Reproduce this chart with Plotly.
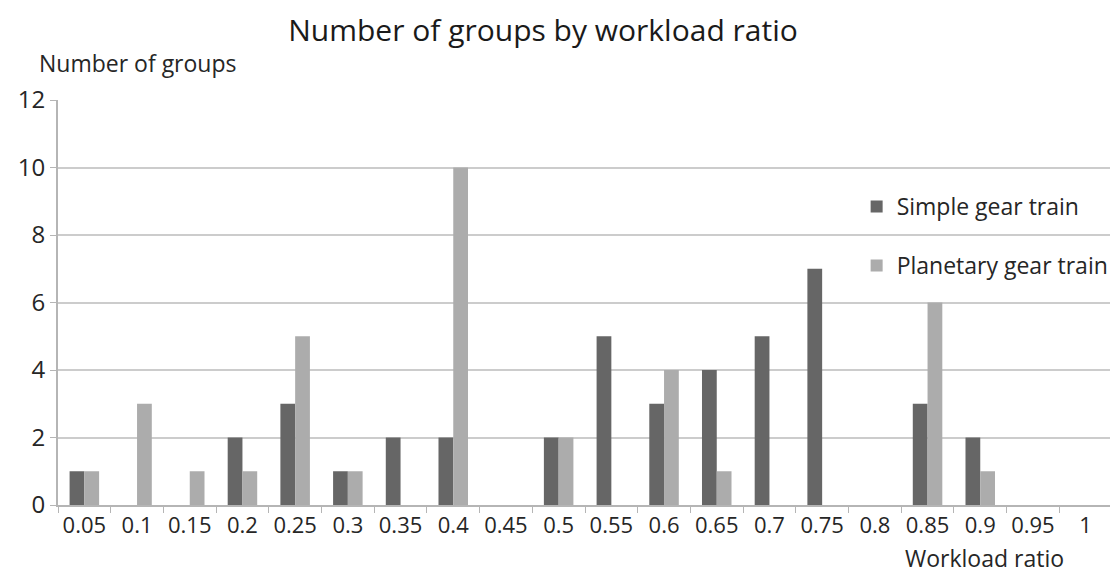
import plotly.graph_objects as go

categories = ["0.05", "0.1", "0.15", "0.2", "0.25", "0.3", "0.35", "0.4", "0.45", "0.5",
              "0.55", "0.6", "0.65", "0.7", "0.75", "0.8", "0.85", "0.9", "0.95", "1"]
simple = [1, 0, 0, 2, 3, 1, 2, 2, 0, 2, 5, 3, 4, 5, 7, 0, 3, 2, 0, 0]
planetary = [1, 3, 1, 1, 5, 1, 0, 10, 0, 2, 0, 4, 1, 0, 0, 0, 6, 1, 0, 0]
y_ticks = [0, 2, 4, 6, 8, 10, 12]

FONT = "Open Sans"
TXT = "#262626"

fig = go.Figure()
fig.add_trace(go.Bar(x=categories, y=simple, name="Simple gear train", legendgroup="a",
                     marker=dict(color="#666666", line=dict(width=0))))
fig.add_trace(go.Bar(x=categories, y=planetary, name="Planetary gear train", legendgroup="b",
                     marker=dict(color="#acacac", line=dict(width=0))))

fig.update_layout(
    width=1110, height=565,
    margin=dict(l=50, r=5, t=92, b=68),
    paper_bgcolor="white", plot_bgcolor="white",
    barmode="group", bargap=0.44, bargroupgap=0,
    font=dict(family=FONT, color=TXT, size=20),
    title=dict(text="Number of groups by workload ratio", x=0.482, xanchor="center",
               y=0.96, yanchor="middle", font=dict(size=30, family=FONT, color="#1a1a1a")),
    legend=dict(x=0.757, xanchor="left", y=0.79, yanchor="top", bgcolor="rgba(0,0,0,0)",
                tracegroupgap=26, font=dict(size=23, family=FONT, color=TXT),
                itemwidth=30),
    showlegend=True,
)
fig.update_xaxes(type="category", tickson="boundaries", ticks="outside", ticklen=6,
                 tickcolor="#b5b5b5", showline=True, linecolor="#b5b5b5", linewidth=2,
                 showgrid=False, tickangle=0, tickfont=dict(size=22, color=TXT))
fig.update_yaxes(range=[0, 12], tickvals=y_ticks, ticks="outside", ticklen=6,
                 tickcolor="#b5b5b5", showline=True, linecolor="#b5b5b5", linewidth=2,
                 showgrid=True, gridcolor="#cccccc", gridwidth=2, zeroline=False,
                 tickfont=dict(size=24, color=TXT))

fig.add_annotation(text="Number of groups", xref="paper", yref="paper", x=-0.02, y=1.091,
                   xanchor="left", yanchor="middle", showarrow=False,
                   font=dict(size=23, family=FONT, color=TXT))
fig.add_annotation(text="Workload ratio", xref="paper", yref="paper", x=0.879, y=-0.131,
                   xanchor="center", yanchor="middle", showarrow=False,
                   font=dict(size=23, family=FONT, color=TXT))

fig.write_html("out.html")
